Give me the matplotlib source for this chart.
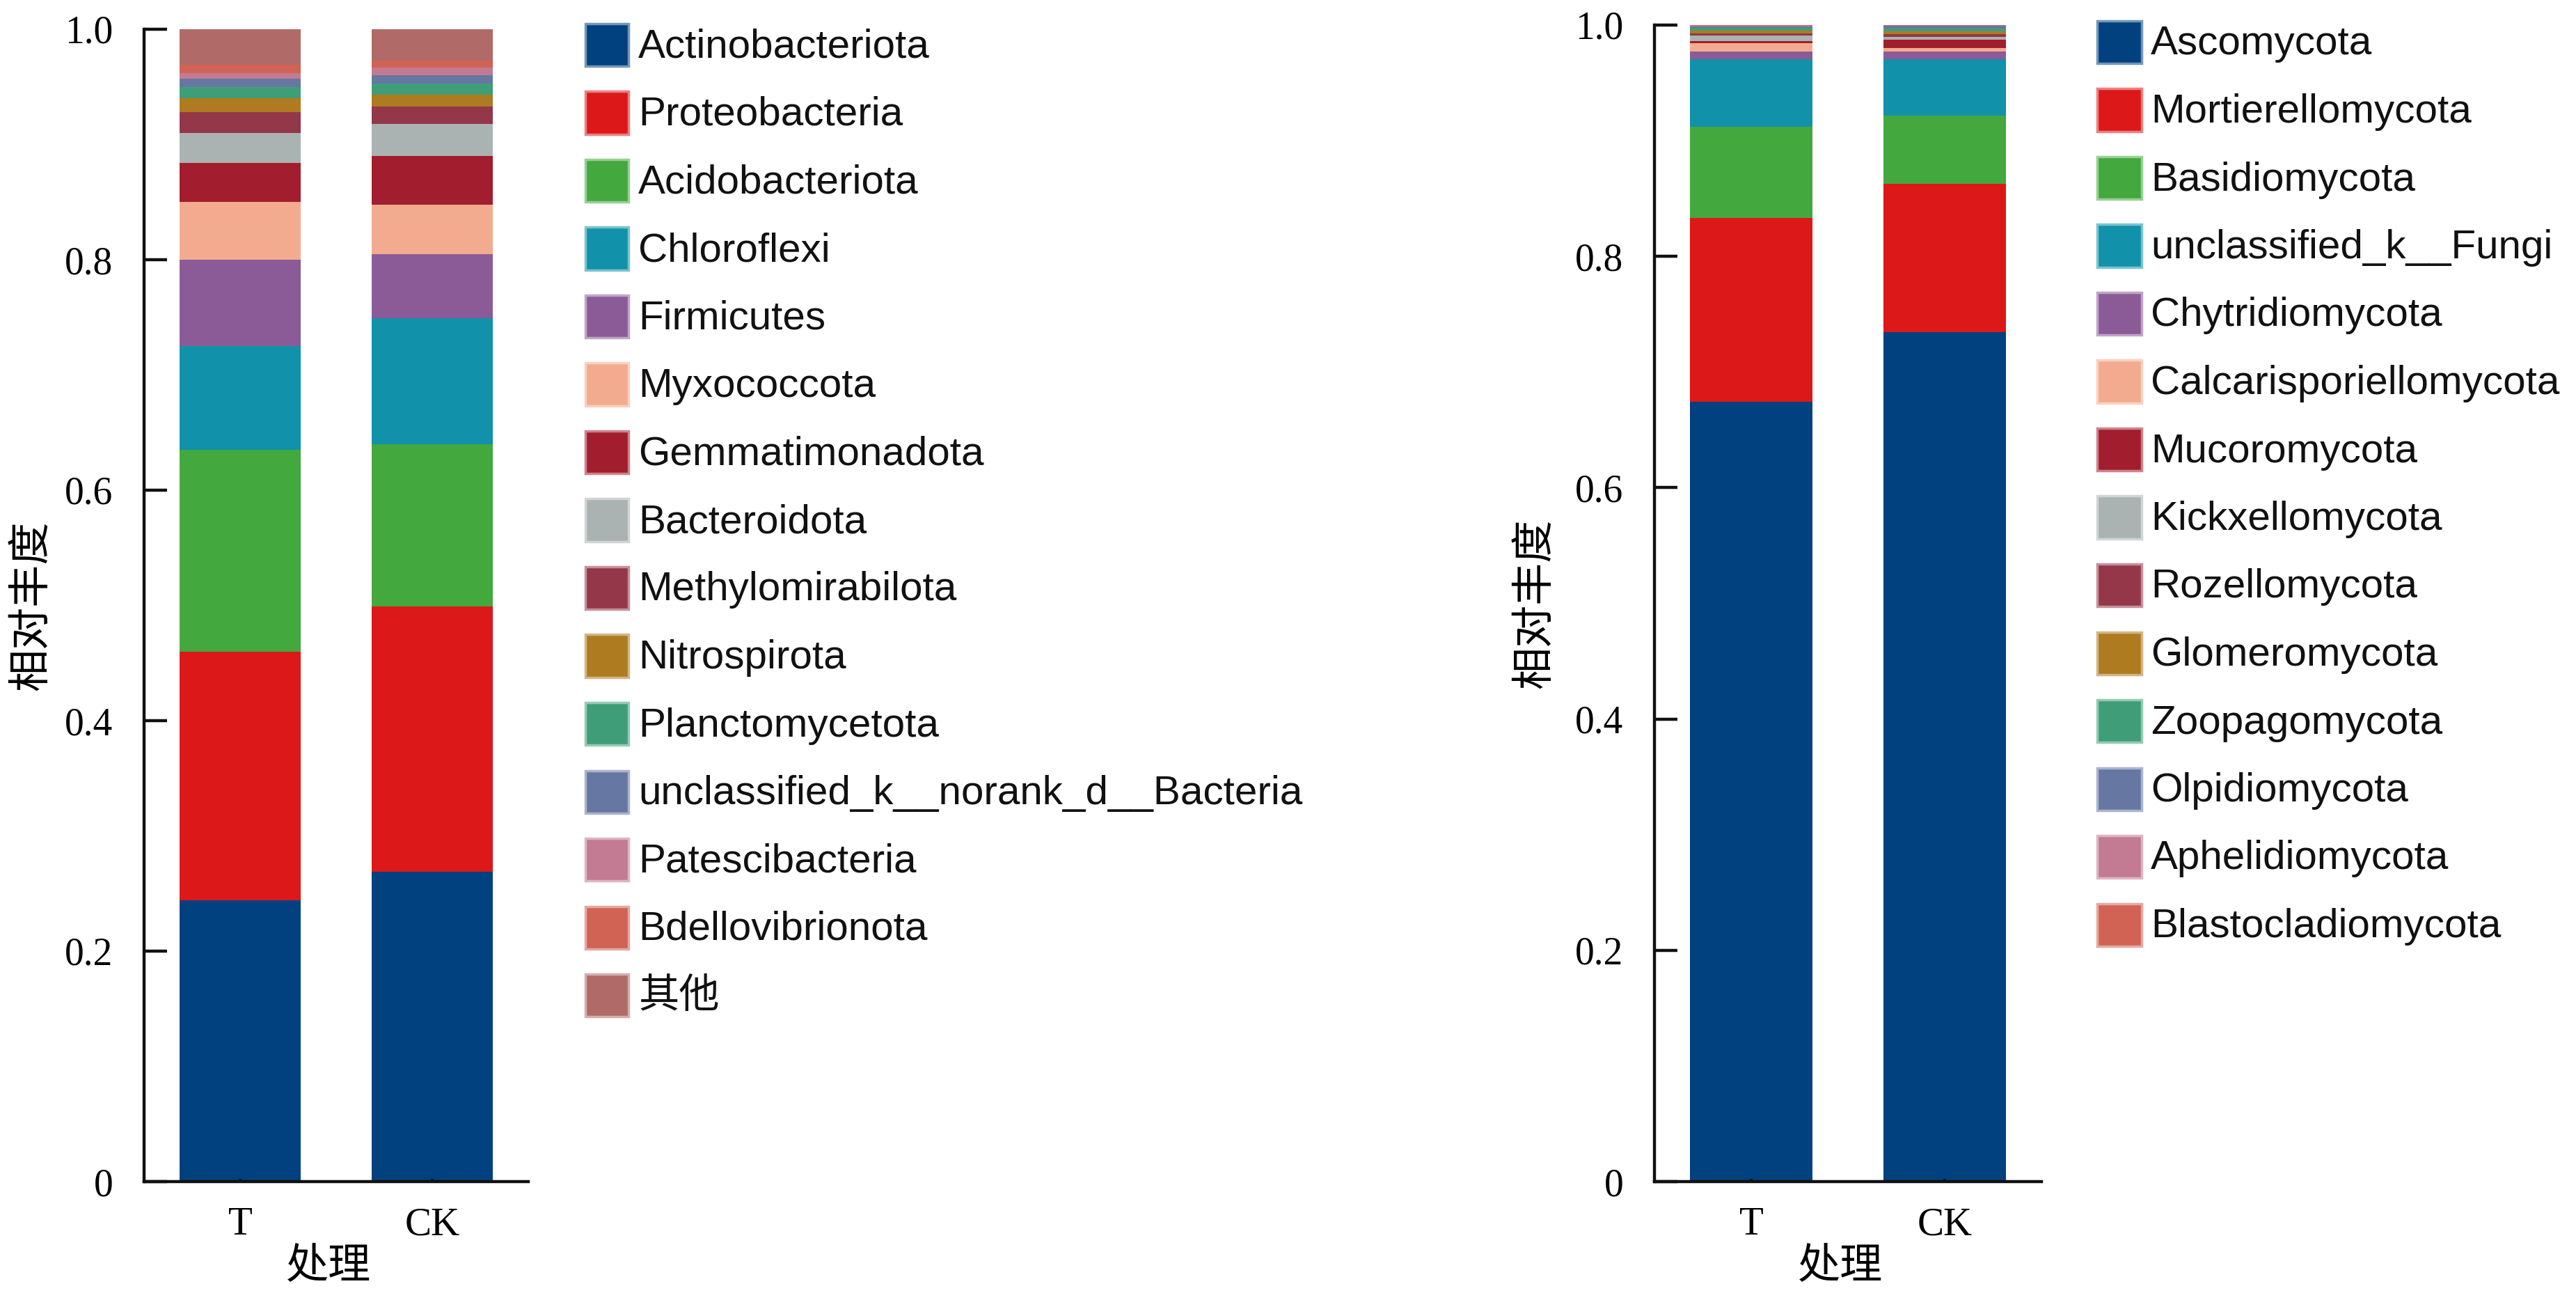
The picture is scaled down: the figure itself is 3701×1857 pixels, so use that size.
import matplotlib
matplotlib.use("Agg")
import matplotlib.pyplot as plt
from matplotlib.patches import Rectangle
import numpy as np

# ---------------- data ----------------
groups = ["T", "CK"]

bac_names = ["Actinobacteriota", "Proteobacteria", "Acidobacteriota", "Chloroflexi",
             "Firmicutes", "Myxococcota", "Gemmatimonadota", "Bacteroidota",
             "Methylomirabilota", "Nitrospirota", "Planctomycetota",
             "unclassified_k__norank_d__Bacteria", "Patescibacteria",
             "Bdellovibrionota", "其他"]
bac_T = [0.244, 0.216, 0.175, 0.090, 0.075, 0.050, 0.034, 0.026, 0.018,
         0.012, 0.010, 0.007, 0.005, 0.007, 0.031]
bac_CK = [0.269, 0.230, 0.141, 0.109, 0.056, 0.043, 0.042, 0.028, 0.0147,
          0.0104, 0.0096, 0.0074, 0.0066, 0.006, 0.0273]

fun_names = ["Ascomycota", "Mortierellomycota", "Basidiomycota",
             "unclassified_k__Fungi", "Chytridiomycota", "Calcarisporiellomycota",
             "Mucoromycota", "Kickxellomycota", "Rozellomycota", "Glomeromycota",
             "Zoopagomycota", "Olpidiomycota", "Aphelidiomycota",
             "Blastocladiomycota"]
fun_T = [0.674, 0.159, 0.079, 0.0586, 0.0065, 0.007, 0.002, 0.0046, 0.0023,
         0.0023, 0.0023, 0.001, 0.0008, 0.0005]
fun_CK = [0.7345, 0.1285, 0.059, 0.0486, 0.0065, 0.003, 0.0075, 0.0023,
          0.0023, 0.0023, 0.0023, 0.0023, 0.0005, 0.0004]

palette = ["#01417F", "#DC1818", "#43A83E", "#1191AA", "#8B5B98", "#F3AB8F",
           "#A21D2D", "#ABB3B2", "#933749", "#AE7B21", "#3F9E78", "#6677A2",
           "#C27B92", "#D06354", "#B06A68"]

yticks = [0, 0.2, 0.4, 0.6, 0.8, 1.0]
ytick_labels = ["0", "0.2", "0.4", "0.6", "0.8", "1.0"]

# ---------------- figure ----------------
W, H = 3701, 1857
DPI = 100
fig = plt.figure(figsize=(W / DPI, H / DPI), dpi=DPI)

SERIF = ["Liberation Serif", "DejaVu Serif"]
SANS = ["Liberation Sans", "Noto Sans CJK SC", "DejaVu Sans"]
CJK = ["Noto Sans CJK SC", "DejaVu Sans"]


def rect(x0, y0, x1, y1):
    return [x0 / W, 1 - y1 / H, (x1 - x0) / W, (y1 - y0) / H]


def lighten(c, f=0.5):
    r, g, b = matplotlib.colors.to_rgb(c)
    return (r + (1 - r) * f, g + (1 - g) * f, b + (1 - b) * f)


def draw_panel(ax, names, vT, vCK, ylab_x):
    x = np.arange(len(groups))
    data = np.array([vT, vCK])
    bottom = np.zeros(len(groups))
    for i, name in enumerate(names):
        ax.bar(x, data[:, i], bottom=bottom, width=0.63, color=palette[i],
               edgecolor="none", linewidth=0, label=name)
        bottom += data[:, i]
    ax.set_xlim(-0.5, 1.5)
    ax.set_ylim(0, 1.0)
    ax.set_xticks(x)
    ax.set_xticklabels(groups, fontfamily=SERIF, fontsize=41)
    ax.set_yticks(yticks)
    ax.set_yticklabels(ytick_labels, fontfamily=SERIF, fontsize=40)
    for s in ["top", "right"]:
        ax.spines[s].set_visible(False)
    for s in ["left", "bottom"]:
        ax.spines[s].set_linewidth(3.2)
        ax.spines[s].set_color("#111111")
    ax.tick_params(axis="y", direction="in", length=24, width=3.2,
                   pad=32, color="#111111")
    ax.tick_params(axis="x", direction="in", length=3, width=3,
                   pad=26, color="#111111")
    ax.set_ylabel("相对丰度", fontfamily=CJK, fontsize=44, fontweight="medium")
    ax.yaxis.set_label_coords(ylab_x, 0.5)
    ax.set_xlabel("处理", fontfamily=CJK, fontsize=44, fontweight="medium")
    ax.xaxis.set_label_coords(0.48, -0.054)


def draw_legend(names, px0, px1, tx, cy0, step):
    for i, name in enumerate(names):
        cy = cy0 + i * step
        r = Rectangle((px0 / W, 1 - (cy + 30.5) / H), (px1 - px0) / W, 61 / H,
                      transform=fig.transFigure, facecolor=palette[i],
                      edgecolor=lighten(palette[i], 0.45), linewidth=2.5)
        fig.add_artist(r)
        fig.text(tx / W, 1 - (cy + 18) / H, name, fontfamily=SANS,
                 fontsize=42, ha="left", va="baseline", color="#111111")


ax1 = fig.add_axes(rect(207, 42, 759, 1697))
draw_panel(ax1, bac_names, bac_T, bac_CK, -0.237)

ax2 = fig.add_axes(rect(2377, 36, 2933, 1697))
draw_panel(ax2, fun_names, fun_T, fun_CK, -0.254)

draw_legend(bac_names, 841, 903, 917, 64.5, 97.5)
draw_legend(fun_names, 3013, 3077, 3090, 60.5, 97.5)

fig.savefig("out.png", dpi=DPI, facecolor="white")
